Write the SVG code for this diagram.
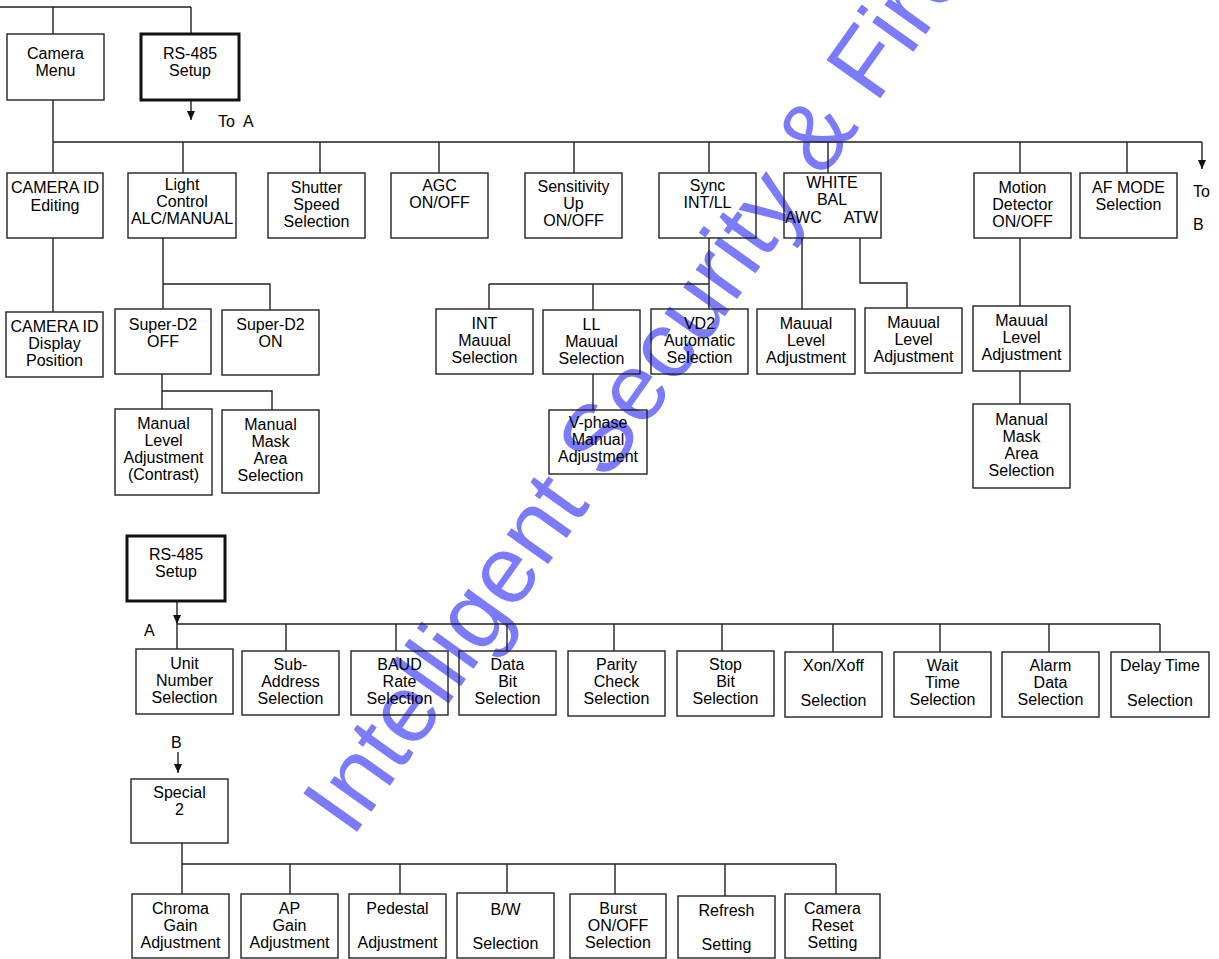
<svg xmlns="http://www.w3.org/2000/svg" width="1219" height="959" viewBox="0 0 1219 959">
<defs>
<marker id="ah" markerWidth="9" markerHeight="8" refX="9" refY="4" orient="auto" markerUnits="userSpaceOnUse" viewBox="0 0 9 8">
<path d="M0,0 L9,4 L0,8 Z" fill="#111"/>
</marker>
<style>
.b{fill:none;stroke:#222;stroke-width:1.4}
.t{fill:none;stroke:#111;stroke-width:3}
text{font-family:"Liberation Sans",Arial,sans-serif;font-size:16px;fill:#000;text-anchor:middle}
.l{text-anchor:start}
.c path{fill:none;stroke:#222;stroke-width:1.4}
.wm{font-size:96px;fill:#7b7bff;text-anchor:start}
</style>
</defs>
<rect width="1219" height="959" fill="#fff"/>
<text class="wm" transform="translate(352,839) rotate(-54.5)">Intelligent Security &amp; Fire</text>

<g id="connectors" class="c">
<path d="M0,7 H191 M53,7 V34 M191,7 V34"/>
<path d="M191,100 V120" marker-end="url(#ah)"/>
<path d="M53,100 V173 M53,142 H1202"/>
<path d="M1202,142 V169" marker-end="url(#ah)"/>
<path d="M183,142 V173 M320,142 V173 M439,142 V173 M574,142 V173 M709,142 V173 M828,142 V173 M1020,142 V173 M1127,142 V173"/>
<path d="M53,238 V312"/>
<path d="M163,238 V309 M163,284 H270 V310"/>
<path d="M162,374 V409 M162,391 H272 V410"/>
<path d="M709,238 V309 M489,284 H709 M489,284 V309 M593,284 V310"/>
<path d="M593,374 V410"/>
<path d="M802,238 V309 M860,238 V283 H907 V308"/>
<path d="M1020,238 V306 M1020,371 V404"/>
<path d="M177,601 V624" marker-end="url(#ah)"/>
<path d="M177,624 H1160 M177,624 V649 M286,624 V651 M396,624 V651 M507,624 V651 M614,624 V651 M722,624 V651 M833,624 V652 M940,624 V652 M1049,624 V652 M1160,624 V652"/>
<path d="M178,752 V773" marker-end="url(#ah)"/>
<path d="M182,843 V894 M182,864 H836 M290,864 V894 M400,864 V894 M507,864 V893 M615,864 V894 M725,864 V896 M836,864 V894"/>
</g>

<g id="labels">
<text class="l" x="218" y="127">To</text>
<text class="l" x="243" y="127">A</text>
<text class="l" x="1193" y="197">To</text>
<text class="l" x="1193" y="230">B</text>
<text class="l" x="144" y="636">A</text>
<text class="l" x="171" y="748">B</text>
</g>

<g id="camera-menu"><rect class="b" x="7" y="34" width="97" height="66"/><text x="55.5" y="59">Camera</text><text x="55.5" y="76">Menu</text></g>
<g id="rs485-top"><rect class="t" x="141" y="34" width="98" height="66"/><text x="190" y="59">RS-485</text><text x="190" y="76">Setup</text></g>

<g id="camera-id-editing"><rect class="b" x="7" y="173" width="96" height="65"/><text x="55" y="193">CAMERA ID</text><text x="55" y="211">Editing</text></g>
<g id="light-control"><rect class="b" x="128" y="173" width="108" height="65"/><text x="182" y="190">Light</text><text x="182" y="207">Control</text><text x="182" y="224">ALC/MANUAL</text></g>
<g id="shutter"><rect class="b" x="268" y="173" width="97" height="65"/><text x="316.5" y="193">Shutter</text><text x="316.5" y="210">Speed</text><text x="316.5" y="227">Selection</text></g>
<g id="agc"><rect class="b" x="391" y="173" width="97" height="65"/><text x="439.5" y="191">AGC</text><text x="439.5" y="208">ON/OFF</text></g>
<g id="sensitivity"><rect class="b" x="525" y="173" width="97" height="65"/><text x="573.5" y="192">Sensitivity</text><text x="573.5" y="209">Up</text><text x="573.5" y="226">ON/OFF</text></g>
<g id="sync"><rect class="b" x="659" y="173" width="97" height="65"/><text x="707.5" y="191">Sync</text><text x="707.5" y="208">INT/LL</text></g>
<g id="white-bal"><rect class="b" x="784" y="173" width="97" height="65"/><text x="832" y="188">WHITE</text><text x="832" y="205">BAL</text><text class="l" x="785" y="223">AWC</text><text x="878" y="223" style="text-anchor:end">ATW</text></g>
<g id="motion-detector"><rect class="b" x="974" y="173" width="97" height="65"/><text x="1022.5" y="193">Motion</text><text x="1022.5" y="210">Detector</text><text x="1022.5" y="227">ON/OFF</text></g>
<g id="af-mode"><rect class="b" x="1080" y="173" width="97" height="65"/><text x="1128.5" y="193">AF MODE</text><text x="1128.5" y="210">Selection</text></g>

<g id="camera-id-display"><rect class="b" x="6" y="312" width="97" height="65"/><text x="54.5" y="332">CAMERA ID</text><text x="54.5" y="349">Display</text><text x="54.5" y="366">Position</text></g>
<g id="super-d2-off"><rect class="b" x="115" y="309" width="96" height="65"/><text x="163" y="330">Super-D2</text><text x="163" y="347">OFF</text></g>
<g id="super-d2-on"><rect class="b" x="222" y="310" width="97" height="65"/><text x="270.5" y="330">Super-D2</text><text x="270.5" y="347">ON</text></g>
<g id="manual-level-contrast"><rect class="b" x="115" y="409" width="97" height="86"/><text x="163.5" y="429">Manual</text><text x="163.5" y="446">Level</text><text x="163.5" y="463">Adjustment</text><text x="163.5" y="480">(Contrast)</text></g>
<g id="manual-mask-1"><rect class="b" x="222" y="410" width="97" height="83"/><text x="270.5" y="430">Manual</text><text x="270.5" y="447">Mask</text><text x="270.5" y="464">Area</text><text x="270.5" y="481">Selection</text></g>

<g id="int-manual"><rect class="b" x="436" y="309" width="97" height="65"/><text x="484.5" y="329">INT</text><text x="484.5" y="346">Mauual</text><text x="484.5" y="363">Selection</text></g>
<g id="ll-manual"><rect class="b" x="543" y="310" width="97" height="64"/><text x="591.5" y="330">LL</text><text x="591.5" y="347">Mauual</text><text x="591.5" y="364">Selection</text></g>
<g id="vd2-auto"><rect class="b" x="651" y="309" width="97" height="65"/><text x="699.5" y="329">VD2</text><text x="699.5" y="346">Automatic</text><text x="699.5" y="363">Selection</text></g>
<g id="awc-level"><rect class="b" x="757" y="309" width="98" height="65"/><text x="806" y="329">Mauual</text><text x="806" y="346">Level</text><text x="806" y="363">Adjustment</text></g>
<g id="atw-level"><rect class="b" x="865" y="308" width="97" height="65"/><text x="913.5" y="328">Mauual</text><text x="913.5" y="345">Level</text><text x="913.5" y="362">Adjustment</text></g>
<g id="motion-level"><rect class="b" x="973" y="306" width="97" height="65"/><text x="1021.5" y="326">Mauual</text><text x="1021.5" y="343">Level</text><text x="1021.5" y="360">Adjustment</text></g>
<g id="manual-mask-2"><rect class="b" x="973" y="404" width="97" height="84"/><text x="1021.5" y="425">Manual</text><text x="1021.5" y="442">Mask</text><text x="1021.5" y="459">Area</text><text x="1021.5" y="476">Selection</text></g>
<g id="v-phase"><rect class="b" x="549" y="410" width="98" height="64"/><text x="598" y="428">V-phase</text><text x="598" y="445">Manual</text><text x="598" y="462">Adjustment</text></g>

<g id="rs485-bottom"><rect class="t" x="127" y="536" width="98" height="65"/><text x="176" y="560">RS-485</text><text x="176" y="577">Setup</text></g>
<g id="unit-number"><rect class="b" x="136" y="649" width="97" height="65"/><text x="184.5" y="669">Unit</text><text x="184.5" y="686">Number</text><text x="184.5" y="703">Selection</text></g>
<g id="sub-address"><rect class="b" x="242" y="651" width="97" height="64"/><text x="290.5" y="670">Sub-</text><text x="290.5" y="687">Address</text><text x="290.5" y="704">Selection</text></g>
<g id="baud-rate"><rect class="b" x="351" y="651" width="97" height="64"/><text x="399.5" y="670">BAUD</text><text x="399.5" y="687">Rate</text><text x="399.5" y="704">Selection</text></g>
<g id="data-bit"><rect class="b" x="459" y="651" width="97" height="64"/><text x="507.5" y="670">Data</text><text x="507.5" y="687">Bit</text><text x="507.5" y="704">Selection</text></g>
<g id="parity-check"><rect class="b" x="568" y="651" width="97" height="65"/><text x="616.5" y="670">Parity</text><text x="616.5" y="687">Check</text><text x="616.5" y="704">Selection</text></g>
<g id="stop-bit"><rect class="b" x="677" y="651" width="97" height="65"/><text x="725.5" y="670">Stop</text><text x="725.5" y="687">Bit</text><text x="725.5" y="704">Selection</text></g>
<g id="xon-xoff"><rect class="b" x="785" y="652" width="97" height="65"/><text x="833.5" y="671">Xon/Xoff</text><text x="833.5" y="706">Selection</text></g>
<g id="wait-time"><rect class="b" x="894" y="652" width="97" height="65"/><text x="942.5" y="671">Wait</text><text x="942.5" y="688">Time</text><text x="942.5" y="705">Selection</text></g>
<g id="alarm-data"><rect class="b" x="1002" y="652" width="97" height="65"/><text x="1050.5" y="671">Alarm</text><text x="1050.5" y="688">Data</text><text x="1050.5" y="705">Selection</text></g>
<g id="delay-time"><rect class="b" x="1111" y="652" width="98" height="65"/><text x="1160" y="671">Delay Time</text><text x="1160" y="706">Selection</text></g>

<g id="special-2"><rect class="b" x="131" y="779" width="97" height="64"/><text x="179.5" y="798">Special</text><text x="179.5" y="815">2</text></g>
<g id="chroma-gain"><rect class="b" x="132" y="894" width="97" height="64"/><text x="180.5" y="914">Chroma</text><text x="180.5" y="931">Gain</text><text x="180.5" y="948">Adjustment</text></g>
<g id="ap-gain"><rect class="b" x="241" y="894" width="97" height="64"/><text x="289.5" y="914">AP</text><text x="289.5" y="931">Gain</text><text x="289.5" y="948">Adjustment</text></g>
<g id="pedestal"><rect class="b" x="349" y="894" width="97" height="64"/><text x="397.5" y="914">Pedestal</text><text x="397.5" y="948">Adjustment</text></g>
<g id="bw"><rect class="b" x="457" y="893" width="97" height="65"/><text x="505.5" y="915">B/W</text><text x="505.5" y="949">Selection</text></g>
<g id="burst"><rect class="b" x="570" y="894" width="96" height="64"/><text x="618" y="914">Burst</text><text x="618" y="931">ON/OFF</text><text x="618" y="948">Selection</text></g>
<g id="refresh"><rect class="b" x="678" y="896" width="97" height="62"/><text x="726.5" y="916">Refresh</text><text x="726.5" y="950">Setting</text></g>
<g id="camera-reset"><rect class="b" x="785" y="894" width="95" height="64"/><text x="832.5" y="914">Camera</text><text x="832.5" y="931">Reset</text><text x="832.5" y="948">Setting</text></g>
</svg>
